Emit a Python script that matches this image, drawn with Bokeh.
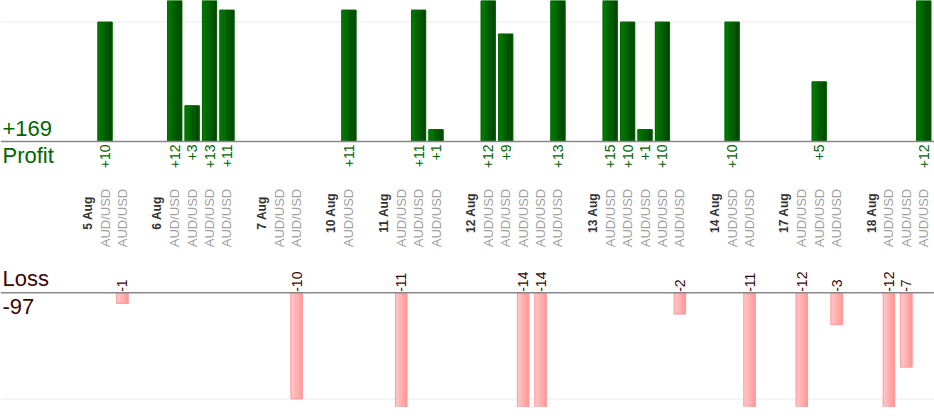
import math
from bokeh.plotting import figure
from bokeh.layouts import column
from bokeh.models import Range1d, Span, Label, ColumnDataSource
from bokeh.transform import dodge
from bokeh.core.properties import value
from bokeh.embed import file_html
from bokeh.resources import INLINE

# ---- data ----
days = ["5 Aug", "6 Aug", "7 Aug", "10 Aug", "11 Aug", "12 Aug",
        "13 Aug", "14 Aug", "17 Aug", "18 Aug"]
symbol = "AUD/USD"
day_results = [
    [10, -1],
    [12, 3, 13, 11],
    [0, -10],
    [11],
    [-11, 11, 1],
    [12, 9, -14, -14, 13],
    [15, 10, 1, 10, -2],
    [10, -11],
    [-12, 5, -3],
    [-12, -7, 12],
]
profit_label = "Profit"
loss_label = "Loss"

# ---- layout of slots (date slot, trade slots, spacer) ----
date_x, trade_x, trade_val = [], [], []
slot = 0
for d, res in zip(days, day_results):
    date_x.append(slot)
    slot += 1
    for r in res:
        trade_x.append(slot)
        trade_val.append(r)
        slot += 1
    slot += 1

pos_x = [x for x, v in zip(trade_x, trade_val) if v > 0]
pos_v = [v for v in trade_val if v > 0]
neg_x = [x for x, v in zip(trade_x, trade_val) if v < 0]
neg_v = [v for v in trade_val if v < 0]
total_profit = sum(pos_v)
total_loss = sum(neg_v)

FONT_NAME = "Liberation Sans"
FONT = value(FONT_NAME)
GREEN = "#006600"
MAROON = "#3a0606"
W = 934
SLOT_PX = 17.42
X0 = -5.0
x_range = Range1d(X0, X0 + W / SLOT_PX)


def lerp_color(c1, c2, t):
    a = [int(c1[i:i + 2], 16) for i in (1, 3, 5)]
    b = [int(c2[i:i + 2], 16) for i in (1, 3, 5)]
    return "#%02x%02x%02x" % tuple(round(a[k] + (b[k] - a[k]) * t) for k in range(3))


def gradient_bars(p, src, width, c_left, c_right, line_color, **kw):
    n = 6
    step = width / n
    for i in range(n):
        off = -width / 2 + step * (i + 0.5)
        p.vbar(x=dodge("x", off, range=p.x_range), width=step * 1.25, source=src,
               fill_color=lerp_color(c_left, c_right, i / (n - 1)),
               line_color=None, **kw)
    p.vbar(x="x", width=width, source=src, fill_color=None,
           line_color=line_color, line_width=1, **kw)


# ---- top: profit ----
PPX = 11.95          # px per unit
TOP_H = 260
p_top = 141 / PPX
p1 = figure(width=W, height=TOP_H, x_range=x_range,
            y_range=Range1d(p_top - TOP_H / PPX, p_top),
            output_backend="svg", toolbar_location=None,
            min_border=0, outline_line_color=None)
p1.axis.visible = False
p1.grid.visible = False
p1.add_layout(Span(location=10, dimension="width", line_color="#ececec",
                   line_width=1, level="underlay"))

src_p = ColumnDataSource(dict(x=pos_x, v=pos_v, t=["+%d" % v for v in pos_v]))
gradient_bars(p1, src_p, 0.82, "#007800", "#004800", "#006a00", top="v", bottom=0)
p1.add_layout(Span(location=0, dimension="width", line_color="#888888", line_width=1.5))
p1.text(x="x", y=0, text="t", source=src_p, angle=math.pi / 2,
        text_align="right", text_baseline="middle", y_offset=3,
        text_font=FONT, text_font_size="14px", text_color=GREEN)

src_d = ColumnDataSource(dict(x=date_x, t=days))
p1.text(x="x", y=0, text="t", source=src_d, angle=math.pi / 2,
        text_align="center", text_baseline="middle", y_offset=71.5,
        text_font=FONT, text_font_size="12px", text_font_style="bold",
        text_color="#333333")
src_s = ColumnDataSource(dict(x=trade_x, t=[symbol] * len(trade_x)))
p1.text(x="x", y=0, text="t", source=src_s, angle=math.pi / 2,
        text_align="center", text_baseline="middle", y_offset=76.5,
        text_font=FONT, text_font_size="13px", text_color="#a0a0a0")

lx = X0 + 2 / SLOT_PX
p1.add_layout(Label(x=lx, y=13 / PPX, text="%+d" % total_profit, text_font=FONT_NAME,
                    text_font_size="22px", text_color=GREEN, text_baseline="alphabetic"))
p1.add_layout(Label(x=lx, y=-14.2 / PPX, text=profit_label, text_font=FONT_NAME,
                    text_font_size="22px", text_color=GREEN, text_baseline="alphabetic"))

# ---- bottom: loss ----
LPX = 10.62
BOT_H = 147
l_top = 32.3 / LPX
p2 = figure(width=W, height=BOT_H, x_range=x_range,
            y_range=Range1d(l_top - BOT_H / LPX, l_top),
            output_backend="svg", toolbar_location=None,
            min_border=0, outline_line_color=None)
p2.axis.visible = False
p2.grid.visible = False
p2.add_layout(Span(location=-10, dimension="width", line_color="#ececec",
                   line_width=1, level="underlay"))
src_n = ColumnDataSource(dict(x=neg_x, v=neg_v, t=["%d" % v for v in neg_v]))
gradient_bars(p2, src_n, 0.66, "#ffc6c6", "#ff9a9a", "#ff9999", top=0, bottom="v")
p2.add_layout(Span(location=0, dimension="width", line_color="#888888", line_width=1.5))
p2.text(x="x", y=0, text="t", source=src_n, angle=math.pi / 2,
        text_align="left", text_baseline="middle", y_offset=-1,
        text_font=FONT, text_font_size="14px", text_color=MAROON)
p2.add_layout(Label(x=lx, y=14.1 / LPX, text=loss_label, text_font=FONT_NAME,
                    text_font_size="22px", text_color=MAROON, text_baseline="alphabetic"))
p2.add_layout(Label(x=lx, y=-13.7 / LPX, text="%d" % total_loss, text_font=FONT_NAME,
                    text_font_size="22px", text_color=MAROON, text_baseline="alphabetic"))

layout = column(p1, p2, spacing=0)
open("out.html", "w").write(file_html(layout, INLINE))
